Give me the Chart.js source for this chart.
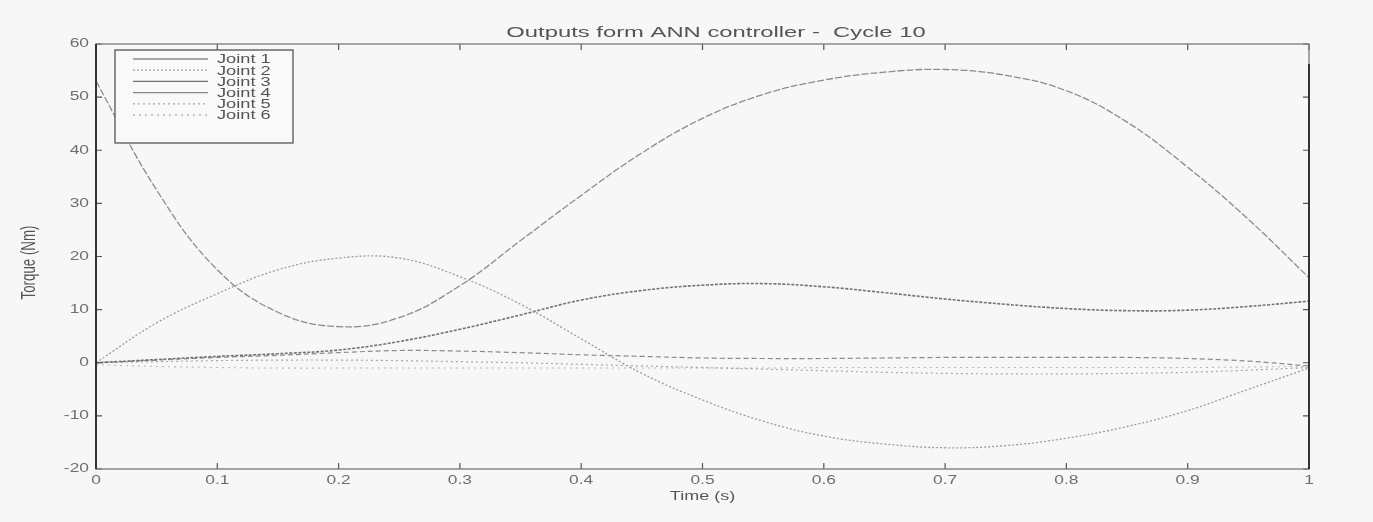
<!DOCTYPE html>
<html>
<head>
<meta charset="utf-8">
<script src="https://cdn.jsdelivr.net/npm/chart.js@4/dist/chart.umd.min.js"></script>
<style>
  html, body { margin: 0; padding: 0; background: #f7f7f7; }
  #wrap { width: 1373px; height: 522px; }
</style>
</head>
<body>
<div id="wrap"><canvas id="chart_torque" width="1373" height="522"></canvas></div>
<script>
const titleText = 'Outputs form ANN controller -  Cycle 10';
const xLabel = 'Time (s)';
const yLabel = 'Torque (Nm)';
const jointNames = ['Joint 1', 'Joint 2', 'Joint 3', 'Joint 4', 'Joint 5', 'Joint 6'];
const timeSeries = [0, 0.05, 0.1, 0.15, 0.2, 0.25, 0.3, 0.35, 0.4, 0.45, 0.5,
                    0.55, 0.6, 0.65, 0.7, 0.75, 0.8, 0.85, 0.9, 0.95, 1];
const joint1 = [53, 32.5, 17.5, 9.5, 6.8, 8.5, 14.5, 23, 31.5, 39.5, 46,
                50.5, 53.2, 54.7, 55.2, 54.1, 51.2, 45.3, 36.8, 27, 16];
const joint2 = [0, 7.5, 13, 17.5, 19.7, 19.7, 16.2, 11, 4.5, -2, -7,
                -11, -13.8, -15.3, -16, -15.6, -14.2, -12, -9, -5, -1];
const joint3 = [0, 0.6, 1.2, 1.7, 2.4, 4, 6.3, 9, 11.8, 13.6, 14.6,
                14.9, 14.3, 13.2, 12, 11, 10.2, 9.8, 9.9, 10.6, 11.6];
const joint4 = [0, 0.5, 1.0, 1.4, 1.9, 2.3, 2.2, 1.9, 1.5, 1.2, 0.9,
                0.8, 0.8, 0.9, 1.0, 1.0, 1.0, 1.0, 0.8, 0.3, -0.6];
const joint5 = [0, 0.2, 0.4, 0.5, 0.5, 0.4, 0.2, 0, -0.3, -0.6, -0.9,
                -1.2, -1.5, -1.8, -2.0, -2.1, -2.1, -2.0, -1.8, -1.4, -0.9];
const joint6 = [-0.4, -0.7, -0.9, -1.0, -1.0, -1.0, -1.0, -1.0, -1.0, -1.0, -1.0,
                -1.0, -0.9, -0.9, -0.9, -0.9, -0.9, -0.9, -0.9, -0.8, -0.7];
const xTicks = [0, 0.1, 0.2, 0.3, 0.4, 0.5, 0.6, 0.7, 0.8, 0.9, 1];
const yTicks = [-20, -10, 0, 10, 20, 30, 40, 50, 60];

const jointData = [joint1, joint2, joint3, joint4, joint5, joint6];
const lineColors = ['#8c8c8c', '#9c9c9c', '#737373', '#8a8a8a', '#a8a8a8', '#b8b8b8'];
const lineDashes = [[7, 2], [2, 2], [3, 1.5], [5, 3], [2, 3], [2, 4]];
const lineWidths = [1.3, 1.3, 1.6, 1.2, 1.2, 1.1];
const legendDashes = [[], [2, 2], [], [], [2, 3], [2, 4]];

const fontFamily = '"Liberation Sans", Arial, sans-serif';

// the scan is stretched sideways, so text is drawn wider than normal
function stretchedText(ctx, text, x, y, align, sx) {
    ctx.save();
    ctx.translate(x, y);
    ctx.scale(sx, 1);
    ctx.textAlign = align;
    ctx.fillText(text, 0, 0);
    ctx.restore();
}

const matlabFrame = {
    id: 'matlabFrame',
    beforeDraw(chart) {
        const ctx = chart.ctx;
        ctx.save();
        ctx.fillStyle = '#f7f7f7';
        ctx.fillRect(0, 0, chart.width, chart.height);
        ctx.restore();
    },
    afterDatasetsDraw(chart) {
        const ctx = chart.ctx;
        const a = chart.chartArea;
        const xs = chart.scales.x, ys = chart.scales.y;
        ctx.save();
        // inward ticks on all four sides
        ctx.strokeStyle = '#555';
        ctx.lineWidth = 1.2;
        ctx.beginPath();
        xTicks.forEach(v => {
            const px = xs.getPixelForValue(v);
            ctx.moveTo(px, a.bottom); ctx.lineTo(px, a.bottom - 6);
            ctx.moveTo(px, a.top); ctx.lineTo(px, a.top + 6);
        });
        yTicks.forEach(v => {
            const py = ys.getPixelForValue(v);
            ctx.moveTo(a.left, py); ctx.lineTo(a.left + 6, py);
            ctx.moveTo(a.right, py); ctx.lineTo(a.right - 6, py);
        });
        ctx.stroke();
        // box
        ctx.strokeStyle = '#7a7a7a';
        ctx.lineWidth = 1.3;
        ctx.strokeRect(a.left, a.top, a.right - a.left, a.bottom - a.top);
        ctx.strokeStyle = '#333';
        ctx.lineWidth = 2;
        ctx.beginPath();
        ctx.moveTo(a.left, a.top); ctx.lineTo(a.left, a.bottom);
        ctx.moveTo(a.right, a.top + 20); ctx.lineTo(a.right, a.bottom);
        ctx.stroke();

        // tick labels
        ctx.fillStyle = '#6e6e6e';
        ctx.font = '12px ' + fontFamily;
        ctx.textBaseline = 'middle';
        xTicks.forEach(v => {
            stretchedText(ctx, String(v), xs.getPixelForValue(v), a.bottom + 12, 'center', 1.45);
        });
        yTicks.forEach(v => {
            stretchedText(ctx, String(v), a.left - 7, ys.getPixelForValue(v), 'right', 1.45);
        });

        // axis titles
        ctx.fillStyle = '#555';
        ctx.font = '12px ' + fontFamily;
        stretchedText(ctx, xLabel, (a.left + a.right) / 2, a.bottom + 28, 'center', 1.5);
        ctx.save();
        ctx.translate(29, (a.top + a.bottom) / 2 + 6);
        ctx.rotate(-Math.PI / 2);
        ctx.scale(0.95, 1.5);
        ctx.font = '14px ' + fontFamily;
        ctx.textAlign = 'center';
        ctx.fillText(yLabel, 0, 0);
        ctx.restore();

        // legend
        const lx = a.left + 19, ly = a.top + 6, lw = 178, lh = 93;
        ctx.fillStyle = '#f9f9f9';
        ctx.fillRect(lx, ly, lw, lh);
        ctx.strokeStyle = '#555';
        ctx.lineWidth = 1.3;
        ctx.strokeRect(lx, ly, lw, lh);
        ctx.font = '12px ' + fontFamily;
        chart.data.datasets.forEach((ds, i) => {
            const ry = ly + 9 + i * 11.2;
            ctx.strokeStyle = ds.borderColor;
            ctx.lineWidth = 1.3;
            ctx.setLineDash(legendDashes[i]);
            ctx.beginPath();
            ctx.moveTo(lx + 18, ry); ctx.lineTo(lx + 93, ry);
            ctx.stroke();
            ctx.setLineDash([]);
            ctx.fillStyle = '#555';
            stretchedText(ctx, ds.label, lx + 102, ry + 1, 'left', 1.52);
        });

        // title
        ctx.font = '14px ' + fontFamily;
        ctx.fillStyle = '#555';
        stretchedText(ctx, titleText, 716, 33, 'center', 1.7);
        ctx.restore();
    }
};

let ctxTorque = document.getElementById('chart_torque').getContext('2d');
let chartTorque = new Chart(ctxTorque, {
    type: 'line',
    data: {
        datasets: jointData.map((vals, i) => ({
            label: jointNames[i],
            data: vals.map((v, k) => ({ x: timeSeries[k], y: v })),
            borderColor: lineColors[i],
            borderWidth: lineWidths[i],
            borderDash: lineDashes[i],
            pointRadius: 0,
            fill: false,
            tension: 0.4
        }))
    },
    options: {
        responsive: false,
        animation: false,
        layout: { padding: { top: 44, right: 64, left: 0, bottom: 0 } },
        plugins: {
            legend: { display: false },
            title: { display: false },
            tooltip: { enabled: false }
        },
        scales: {
            x: {
                type: 'linear',
                min: 0,
                max: 1,
                afterFit: function(scale) { scale.height = 53; },
                grid: { display: false, drawTicks: false },
                border: { display: false },
                ticks: { display: false, stepSize: 0.1 }
            },
            y: {
                min: -20,
                max: 60,
                afterFit: function(scale) { scale.width = 96; },
                grid: { display: false, drawTicks: false },
                border: { display: false },
                ticks: { display: false, stepSize: 10 }
            }
        }
    },
    plugins: [matlabFrame]
});
</script>
</body>
</html>
